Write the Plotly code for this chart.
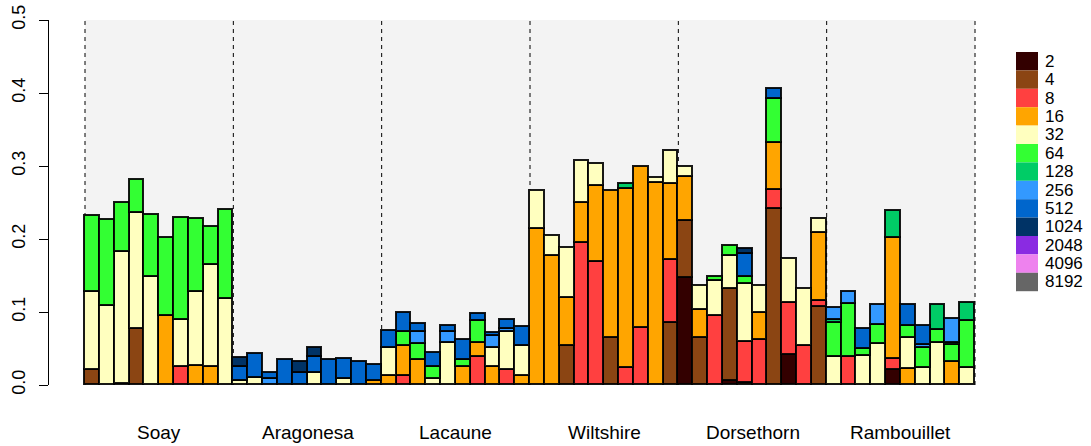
import plotly.graph_objects as go

# Breeds, each shown as a block of 10 consecutive bars
breeds = ["Soay", "Aragonesa", "Lacaune", "Wiltshire", "Dorsethorn", "Rambouillet"]
bars_per_breed = 10

# Size classes (stacked bottom to top) and their fill colours
classes = ["2", "4", "8", "16", "32", "64", "128", "256", "512", "1024", "2048", "4096", "8192"]
class_colors = ["#330000", "#8B4513", "#FF4040", "#FFA500", "#FFFFBF", "#33FF33", "#00CC66",
                "#3399FF", "#0066CC", "#003366", "#8A2BE2", "#EE82EE", "#666666"]

# Per-class values, one row of 10 bars per breed
z10 = [0] * 10
s2 = (z10 + z10 + z10 + z10
      + [0.147, 0, 0, 0.006, 0, 0, 0, 0.041, 0, 0]
      + [0, 0, 0, 0, 0.020, 0, 0, 0, 0, 0])
s4 = ([0.020, 0, 0.002, 0.077, 0, 0, 0, 0, 0, 0]
      + z10 + z10
      + [0, 0, 0.054, 0, 0, 0.064, 0, 0, 0, 0.085]
      + [0.077, 0.065, 0, 0.125, 0.003, 0, 0.241, 0, 0, 0.107]
      + z10)
s8 = ([0, 0, 0, 0, 0, 0, 0.024, 0, 0, 0]
      + z10
      + [0, 0.012, 0, 0, 0, 0, 0.039, 0, 0.020, 0]
      + [0, 0, 0, 0.195, 0.168, 0, 0.023, 0.078, 0, 0.086]
      + [0, 0, 0.094, 0, 0.056, 0.061, 0.026, 0.072, 0.053, 0.008]
      + [0, 0.039, 0, 0, 0.016, 0, 0, 0, 0, 0])
s16 = ([0, 0, 0, 0, 0, 0.094, 0, 0.026, 0.024, 0]
       + [0, 0, 0, 0, 0, 0, 0, 0, 0, 0.006]
       + [0.012, 0.042, 0.034, 0, 0, 0.025, 0.019, 0.024, 0, 0.012]
       + [0.214, 0.177, 0.065, 0.054, 0.105, 0.202, 0.246, 0.220, 0.277, 0.104]
       + [0.061, 0.038, 0, 0, 0, 0.037, 0.065, 0, 0, 0.093]
       + [0, 0, 0, 0, 0.166, 0.022, 0, 0, 0.032, 0])
s32 = ([0.108, 0.108, 0.180, 0.159, 0.148, 0, 0.065, 0.102, 0.140, 0.118]
       + [0.005, 0.010, 0, 0, 0, 0.016, 0, 0.008, 0, 0]
       + [0.039, 0, 0, 0.008, 0.058, 0, 0, 0.027, 0.052, 0.042]
       + [0.052, 0.027, 0.068, 0.058, 0.030, 0, 0, 0, 0.006, 0.046]
       + [0.013, 0.033, 0.048, 0.046, 0.079, 0.037, 0, 0.059, 0.078, 0.019]
       + [0.038, 0, 0.040, 0.056, 0, 0.042, 0.023, 0.058, 0, 0.023])
s64 = ([0.103, 0.118, 0.068, 0.045, 0.085, 0.107, 0.140, 0.099, 0.052, 0.122]
       + z10
       + [0, 0.018, 0.022, 0.016, 0, 0.009, 0.030, 0, 0, 0]
       + z10
       + [0, 0, 0.006, 0.014, 0.010, 0, 0.060, 0, 0, 0]
       + [0.047, 0.072, 0.010, 0.026, 0, 0.017, 0.028, 0.017, 0.023, 0.064])
s128 = (z10 + z10 + z10
        + [0, 0, 0, 0, 0, 0, 0.007, 0, 0, 0]
        + z10
        + [0.004, 0, 0, 0, 0.037, 0, 0, 0.035, 0.003, 0.025])
s256 = (z10
        + [0, 0, 0.008, 0, 0, 0, 0, 0, 0, 0]
        + [0, 0, 0.016, 0, 0.014, 0, 0, 0.016, 0.005, 0]
        + z10 + z10
        + [0.016, 0.017, 0, 0.028, 0, 0, 0.004, 0, 0.032, 0])
s512 = (z10
        + [0.020, 0.032, 0.008, 0.034, 0.017, 0.022, 0.034, 0.027, 0.031, 0.022]
        + [0.023, 0.026, 0.012, 0.020, 0.009, 0.027, 0.009, 0.004, 0.012, 0.026]
        + z10
        + [0, 0, 0, 0, 0.031, 0, 0.014, 0, 0, 0]
        + [0, 0, 0.027, 0, 0, 0.029, 0.026, 0, 0, 0])
s1024 = (z10
         + [0.012, 0, 0, 0, 0.015, 0.013, 0, 0, 0, 0]
         + z10 + z10
         + [0, 0, 0, 0, 0.007, 0, 0, 0, 0, 0]
         + z10)
s2048 = [0] * 60
s4096 = [0] * 60
s8192 = [0] * 60

series = [s2, s4, s8, s16, s32, s64, s128, s256, s512, s1024, s2048, s4096, s8192]

n_bars = len(breeds) * bars_per_breed
xpos = list(range(n_bars))

fig = go.Figure()
for name, color, vals in zip(classes, class_colors, series):
    fig.add_trace(go.Bar(
        x=xpos,
        y=[v if v else None for v in vals],
        width=1,
        name=name,
        marker=dict(color=color, line=dict(color="rgba(0,0,0,0.9)", width=1.6)),
        showlegend=False,
    ))

# Figure geometry (pixels)
W, H = 1091, 446
m_l, m_r, m_t, m_b = 49, 101, 20, 61
plot_w = W - m_l - m_r
plot_h = H - m_t - m_b
x_lo = -0.5 - (85 - m_l) / ((975 - 85) / n_bars)
x_hi = x_lo + plot_w / ((975 - 85) / n_bars)

shapes = []
# grey panel behind the bars
shapes.append(dict(type="rect", xref="x", yref="y", x0=-0.5, x1=n_bars - 0.5, y0=0, y1=0.5,
                   fillcolor="#F3F3F3", line=dict(width=0), layer="below"))
# dashed separators between breeds
for k in range(len(breeds) + 1):
    xb = k * bars_per_breed - 0.5
    shapes.append(dict(type="line", xref="x", yref="y", x0=xb, x1=xb, y0=0, y1=0.5,
                       line=dict(color="black", width=1, dash="4px,4px"), layer="below"))

# legend built from squares and labels
def px_to_xpaper(px):
    return (px - m_l) / plot_w

def px_to_ypaper(py):
    return (H - m_b - py) / plot_h

annotations = []
leg_top, leg_step = 52, 18.4
for i, (name, color) in enumerate(zip(classes, class_colors)):
    y0 = leg_top + i * leg_step
    shapes.append(dict(type="rect", xref="paper", yref="paper",
                       x0=px_to_xpaper(1016), x1=px_to_xpaper(1038),
                       y0=px_to_ypaper(y0 + leg_step), y1=px_to_ypaper(y0),
                       fillcolor=color, line=dict(width=0)))
    annotations.append(dict(xref="paper", yref="paper", x=px_to_xpaper(1044),
                            y=px_to_ypaper(y0 + leg_step / 2), text=name, showarrow=False,
                            xanchor="left", yanchor="middle", borderpad=0,
                            font=dict(size=17, color="black")))

# breed names under each block
for k, b in enumerate(breeds):
    annotations.append(dict(xref="x", yref="paper", x=k * bars_per_breed + (bars_per_breed - 1) / 2,
                            y=0, yshift=-47, text=b, showarrow=False,
                            xanchor="center", yanchor="middle",
                            font=dict(size=19, color="black")))

fig.update_layout(
    width=W, height=H,
    margin=dict(l=m_l, r=m_r, t=m_t, b=m_b, pad=0, autoexpand=False),
    barmode="stack", bargap=0,
    plot_bgcolor="white", paper_bgcolor="white",
    font=dict(family="Liberation Sans, Arial, sans-serif", color="black"),
    shapes=shapes, annotations=annotations,
    xaxis=dict(range=[x_lo, x_hi], showticklabels=False, showgrid=False, zeroline=False,
               showline=False, ticks="", automargin=False),
    yaxis=dict(range=[0, 0.5], tickvals=[0, 0.1, 0.2, 0.3, 0.4, 0.5],
               ticktext=["0.0", "0.1", "0.2", "0.3", "0.4", "0.5"],
               tickangle=-90, ticks="outside", ticklen=9, tickwidth=1, tickcolor="black",
               ticklabelstandoff=7, automargin=False,
               showline=True, linecolor="black", linewidth=1, showgrid=False, zeroline=False,
               tickfont=dict(size=18, color="black")),
)

fig.write_html("out.html")
